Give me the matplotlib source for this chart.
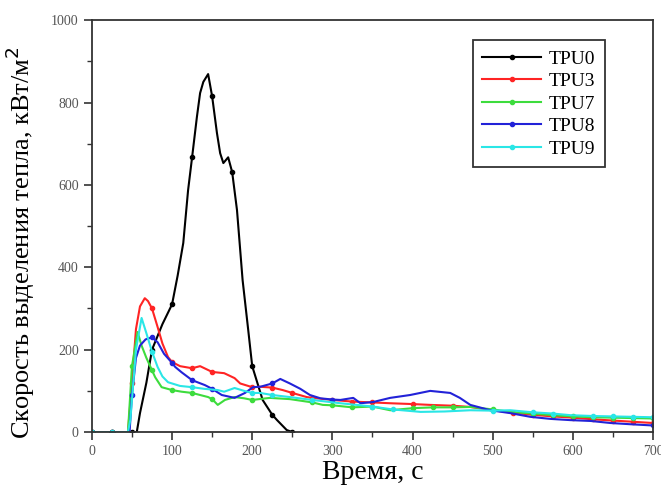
import matplotlib.pyplot as plt
from matplotlib.ticker import MultipleLocator

plt.rcParams['font.family'] = ['Liberation Serif', 'DejaVu Serif']

# heat release rate curves, time in s, HRR in kW/m2
t0 = [0, 25, 50, 56, 60, 68, 75, 88, 100, 107, 114, 120, 125, 131, 135, 139,
      145, 150, 156, 160, 164, 170, 175, 181, 185, 188, 195, 200, 213, 225,
      231, 243, 250]
v0 = [0, 0, 0, 0, 46, 120, 200, 262, 310, 380, 459, 587, 667, 765, 823, 850,
      869, 815, 726, 677, 653, 667, 631, 539, 442, 369, 248, 160, 78, 42,
      29, 5, 0]

t3 = [0, 25, 45, 50, 55, 60, 66, 70, 75, 82, 88, 95, 100, 110, 125, 135,
      150, 165, 178, 185, 200, 210, 225, 238, 250, 268, 275, 300, 325, 350,
      372, 400, 422, 450, 472, 500, 525, 550, 575, 600, 625, 650, 675, 700]
v3 = [0, 0, 0, 120, 250, 305, 325, 318, 300, 255, 215, 182, 170, 160, 155, 160,
      146, 143, 131, 118, 109, 110, 108, 102, 95, 85, 83, 78, 74, 72,
      70, 68, 66, 64, 61, 53, 47, 42, 38, 35, 31, 28, 25, 22]

t7 = [0, 25, 45, 50, 57, 62, 68, 75, 79, 87, 100, 112, 125, 145, 150, 157,
      166, 178, 190, 200, 222, 247, 275, 288, 300, 325, 350, 372, 400, 425,
      450, 472, 500, 522, 550, 575, 600, 625, 650, 675, 700]
v7 = [0, 0, 0, 160, 243, 210, 180, 150, 133, 109, 102, 98, 95, 85, 80, 66,
      78, 85, 82, 78, 83, 80, 72, 66, 65, 60, 62, 53, 58, 60,
      60, 61, 55, 49, 45, 41, 38, 36, 35, 34, 33]

t8 = [0, 25, 47, 50, 55, 60, 67, 75, 82, 90, 100, 104, 112, 125, 141, 150,
      162, 178, 191, 201, 210, 225, 235, 247, 260, 272, 285, 300, 310, 326,
      335, 351, 372, 397, 422, 447, 459, 472, 497, 522, 547, 572, 597, 622,
      647, 672, 700]
v8 = [0, 0, 0, 90, 180, 210, 225, 230, 218, 190, 168, 158, 145, 126, 114, 105,
      90, 83, 95, 109, 110, 118, 129, 118, 105, 90, 82, 79, 78, 83,
      70, 73, 83, 90, 100, 95, 83, 66, 53, 46, 37, 32, 29, 27,
      22, 19, 16]

t9 = [0, 25, 45, 48, 55, 62, 68, 75, 82, 88, 95, 110, 125, 140, 157, 165,
      178, 190, 200, 210, 225, 247, 275, 310, 350, 375, 410, 440, 472, 500,
      522, 550, 575, 597, 625, 650, 675, 700]
v9 = [0, 0, 0, 30, 200, 277, 240, 195, 158, 135, 121, 112, 109, 105, 102, 98,
      107, 100, 95, 95, 90, 85, 78, 70, 62, 55, 49, 50, 53, 52,
      53, 48, 45, 41, 39, 38, 37, 36]

series = [
    ("TPU0", t0, v0, "black"),
    ("TPU3", t3, v3, "#ff2424"),
    ("TPU7", t7, v7, "#3ddc3d"),
    ("TPU8", t8, v8, "#2222d8"),
    ("TPU9", t9, v9, "#2ae6e6"),
]

fig = plt.figure(figsize=(6.61, 4.91), dpi=100)
ax = fig.add_axes([0.139, 0.120, 0.849, 0.839])

for name, t, v, c in series:
    # a marker every 25 s
    marks = [i for i, ti in enumerate(t) if ti % 25 == 0]
    ax.plot(t, v, color=c, lw=1.5, marker="o", ms=3, markevery=marks, label=name)

ax.set_xlim(0, 700)
ax.set_ylim(0, 1000)
ax.xaxis.set_major_locator(MultipleLocator(100))
ax.xaxis.set_minor_locator(MultipleLocator(50))
ax.yaxis.set_major_locator(MultipleLocator(200))
ax.yaxis.set_minor_locator(MultipleLocator(100))
ax.tick_params(which="both", direction="out", labelsize=10, labelcolor="#555555",
               color="#333333")
ax.tick_params(which="major", length=6, width=1.2)
ax.tick_params(which="minor", length=3.5, width=1.0)
for s in ax.spines.values():
    s.set_color("#333333")
    s.set_linewidth(1.3)

ax.set_xlabel("Время, с", fontsize=20, labelpad=1)
ax.set_ylabel("Скорость выделения тепла, кВт/м$^2$", fontsize=19)
ax.yaxis.set_label_coords(-0.097, 0.46)

leg = ax.legend(loc="upper right", bbox_to_anchor=(0.914, 0.951), borderaxespad=0,
                fontsize=14, fancybox=False, edgecolor="#333333", framealpha=1,
                handlelength=3.0, handletextpad=0.4, borderpad=0.5,
                labelspacing=0.25)
leg.get_frame().set_linewidth(1.3)

fig.savefig("out.png", dpi=100)
